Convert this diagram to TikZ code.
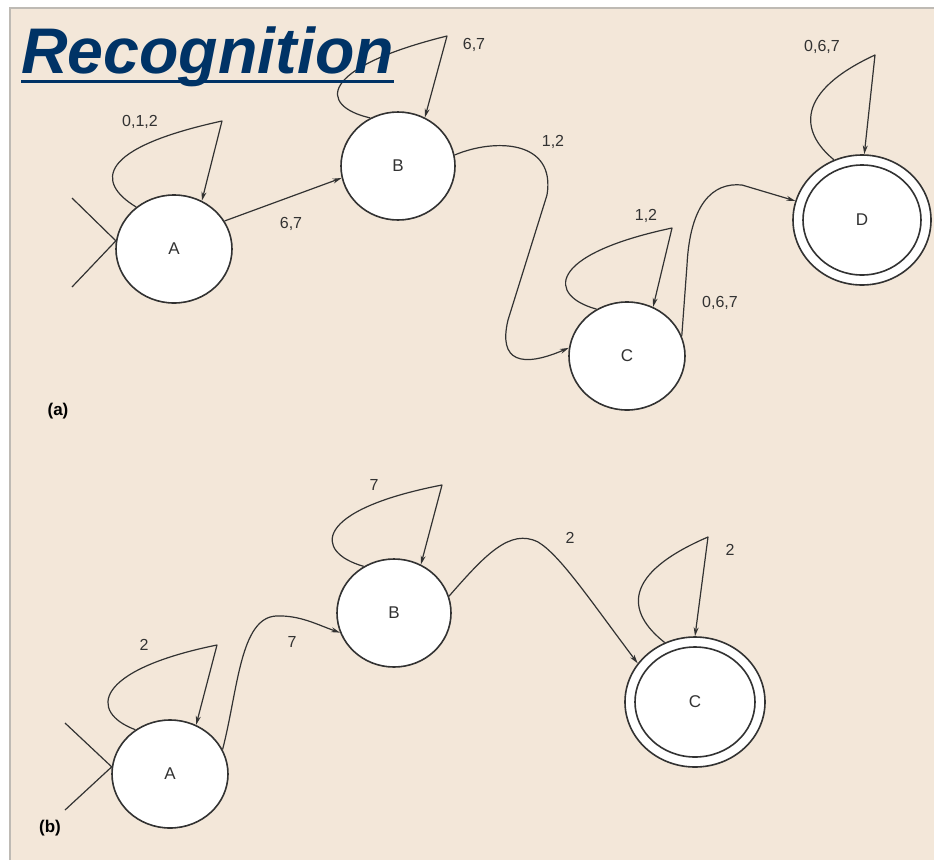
\documentclass[tikz,border=0pt]{standalone}
\usepackage{fontspec}
\setmainfont{Liberation Sans}
\usetikzlibrary{shapes.geometric,arrows.meta,calc}
\definecolor{panel}{RGB}{243,231,217}
\definecolor{panelline}{RGB}{190,186,180}
\definecolor{titleblue}{RGB}{0,51,102}
\definecolor{ink}{RGB}{50,50,50}
\begin{document}
\begin{tikzpicture}[x=1pt,y=-1pt,
  state/.style={ellipse, draw=ink, line width=1.6pt, fill=white,
    minimum width=116pt, minimum height=108pt, inner sep=0pt,
    font=\fontsize{17}{17}\selectfont, text=ink},
  accout/.style={state, minimum width=138pt, minimum height=130pt},
  accin/.style={ellipse, draw=ink, line width=1.6pt,
    minimum width=118pt, minimum height=110pt, inner sep=0pt},
  edge/.style={draw=ink, line width=1.2pt, line join=round,
    -{Stealth[length=9pt,width=5pt]}},
  startline/.style={draw=ink, line width=1.2pt},
  lbl/.style={font=\fontsize{16}{16}\selectfont, text=ink, inner sep=1pt},
  part/.style={font=\bfseries\fontsize{17}{17}\selectfont, text=black, inner sep=0pt}
]
\useasboundingbox (0,0) rectangle (934,860);
\fill[white] (0,0) rectangle (934,860);
\fill[panel] (10,8) rectangle (934,860);
\draw[panelline, line width=2pt] (10,860) -- (10,8) -- (934,8);

% ---------------- (a) ----------------
\node[state] (A) at (174,249) {A};
\node[state, minimum width=114pt] (B) at (398,166) {B};
\node[state] (C) at (627,356) {C};
\node[accout] (D) at (862,220) {D};
\node[accin] (Din) at (D.center) {};

\coordinate (sa1) at (72,198);
\coordinate (sa2) at (72,287);
\draw[startline] (sa1) -- (A.172) -- (sa2);

\draw[edge] (A.132) .. controls (95,182) and (98,148) .. (222,121) -- (A.60);
\node[lbl] (la1) at (140,122) {0,1,2};

\draw[edge] (A.29) -- (B.192);
\node[lbl] (la2) at (291,224) {6,7};

\draw[edge] (B.120) .. controls (318,106) and (318,68) .. (447,36) -- (B.61);
\node[lbl] (la3) at (474,45) {6,7};

\draw[edge] (B.11) .. controls (495,138) and (556,140) .. (547,195)
  -- (508,320) .. controls (498,362) and (522,368) .. (C.172);
\node[lbl] (la4) at (553,142) {1,2};

\draw[edge] (C.123) .. controls (548,296) and (545,255) .. (672,228) -- (C.62);
\node[lbl] (la5) at (646,216) {1,2};

\draw[edge] (C.20) -- (687,265) .. controls (690,205) and (712,182) .. (742,185) -- (D.164);
\node[lbl] (la6) at (720,303) {0,6,7};

\draw[edge] (D.115) .. controls (800,132) and (795,92) .. (875,55) -- (D.88);
\node[lbl] (la7) at (822,47) {0,6,7};

\node[part] (pa) at (58,411) {(a)};

% ---------------- (b) ----------------
\node[state] (A2) at (170,774) {A};
\node[state, minimum width=114pt] (B2) at (394,613) {B};
\node[accout, minimum width=140pt] (C2) at (695,702) {C};
\node[accin, minimum width=120pt] (C2in) at (C2.center) {};

\coordinate (sb1) at (65,723);
\coordinate (sb2) at (65,810);
\draw[startline] (sb1) -- (A2.173) -- (sb2);

\draw[edge] (A2.128) .. controls (88,712) and (94,670) .. (217,645) -- (A2.62);
\node[lbl] (lb1) at (144,645) {2};

\draw[edge] (A2.25) .. controls (238,690) and (240,618) .. (276,616)
  .. controls (300,615) and (318,625) .. (B2.200);
\node[lbl] (lb2) at (292,642) {7};

\draw[edge] (B2.123) .. controls (313,552) and (313,510) .. (442,485) -- (B2.61);
\node[lbl] (lb3) at (374,485) {7};

\draw[edge] (B2.17) .. controls (485,555) and (510,528) .. (538,542)
  .. controls (560,555) and (590,600) .. (C2.146);
\node[lbl] (lb4) at (570,538) {2};

\draw[edge] (C2.117) .. controls (626,612) and (622,574) .. (708,537) -- (C2.90);
\node[lbl] (lb5) at (730,550) {2};

\node[part] (pb) at (50,828) {(b)};

% title (drawn last, over the loop)
\node[anchor=base west, inner sep=0pt, text=titleblue,
  font=\bfseries\itshape\fontsize{64.5}{64.5}\selectfont] (title) at (21,73) {Recognition};
\draw[titleblue, line width=3pt] ($(title.base west)+(0,8)$) -- ($(title.base east)+(0,8)$);
\end{tikzpicture}
\end{document}
